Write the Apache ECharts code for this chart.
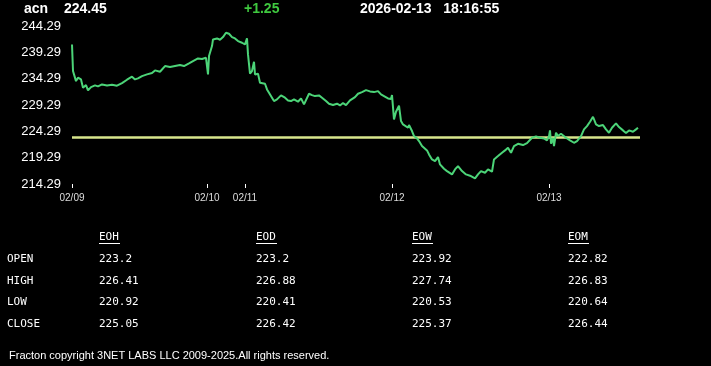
<!DOCTYPE html>
<html>
<head>
<meta charset="utf-8">
<script src="https://cdn.jsdelivr.net/npm/echarts@6/dist/echarts.min.js"></script>
<style>
html,body{margin:0;padding:0;background:#000;}
#chart{width:711px;height:366px;}
</style>
</head>
<body>
<div id="chart"></div>
<script>
// ---- header ----
const symbol = 'acn';
const lastPrice = '224.45';
const change = '+1.25';
const quoteDate = '2026-02-13';
const quoteTime = '18:16:55';
const prevClose = 223.2;

// ---- price series (sample index, price) ----
const sampleIdx = [
  0,1,2,4,6,9,11,14,16,19,23,26,30,35,40,45,50,55,60,63,66,70,75,80,83,88,93,98,103,108,112,117,121,126,130,134,136,137,
  138,140,141,145,148,151,154,157,160,163,166,170,173,175,176,178,180,182,183,186,188,190,193,195,197,200,202,205,209,213,216,219,222,226,229,232,234,237,240,243,247,250,254,257,261,265,268,271,274,278,
  283,286,290,294,298,302,306,309,312,316,319,320,322,324,327,329,331,333,336,337,340,342,345,347,350,352,355,357,360,363,366,368,372,375,380,383,386,390,394,398,403,406,409,413,416,420,422,
  426,430,433,436,439,442,446,451,455,460,464,468,472,475,477,478,479,481,482,484,486,489,491,494,498,502,505,509,512,515,518,521,524,527,531,534,537,540,544,547,551,554,557,561,564,566
];
const prices = [
  240.79,235.73,235.10,233.83,234.47,234.15,232.57,233.07,232.06,232.69,233.01,232.82,233.20,233.01,233.14,232.95,233.45,234.09,234.66,234.15,234.34,234.78,235.10,235.35,235.86,235.60,236.68,236.49,236.68,236.87,236.68,237.19,237.63,238.14,238.01,238.26,235.10,238.58,
  238.26,240.48,241.74,241.93,241.68,242.19,243.01,242.82,242.19,241.93,241.43,241.11,240.79,241.93,238.90,235.23,235.73,237.50,235.10,235.23,233.52,233.20,233.33,232.25,231.62,230.67,230.04,230.35,231.11,230.67,230.16,230.04,230.35,229.91,230.54,229.40,229.53,231.43,231.17,230.98,231.11,230.67,230.04,229.53,229.28,229.53,229.21,229.66,229.28,230.16,
  230.79,231.43,231.74,232.12,231.87,231.74,231.93,231.30,230.98,230.54,230.42,231.17,226.55,228.01,229.15,226.24,225.60,225.73,224.97,225.48,224.34,223.39,222.95,222.44,221.49,221.68,220.67,219.91,218.96,218.64,219.40,218.01,217.19,216.74,216.11,217.06,217.69,216.74,216.11,215.86,215.35,216.11,216.74,216.43,217.06,216.62,218.96,
  219.59,220.23,220.67,221.17,220.23,221.49,221.93,221.68,222.06,223.07,223.33,223.07,222.95,222.57,223.39,224.47,221.93,223.07,221.49,224.02,223.39,223.83,223.96,223.07,222.57,222.12,222.44,223.39,224.66,225.29,226.11,227.06,225.60,225.29,225.48,224.66,224.02,224.97,225.79,225.10,224.47,223.96,224.47,224.21,224.66,224.97
];
const xMax = 568;

// ---- axes ----
const dayTickIdx = [0, 135, 173, 320, 477];
const dayLabels = ['02/09', '02/10', '02/11', '02/12', '02/13'];
const yTicks = [214.29, 219.29, 224.29, 229.29, 234.29, 239.29, 244.29];

// ---- table ----
const colNames = ['EOH', 'EOD', 'EOW', 'EOM'];
const rowNames = ['OPEN', 'HIGH', 'LOW', 'CLOSE'];
const openVals  = ['223.2', '223.2', '223.92', '222.82'];
const highVals  = ['226.41', '226.88', '227.74', '226.83'];
const lowVals   = ['220.92', '220.41', '220.53', '220.64'];
const closeVals = ['225.05', '226.42', '225.37', '226.44'];
const footer = 'Fracton copyright 3NET LABS LLC 2009-2025.All rights reserved.';

// ---- build ----
const chart = echarts.init(document.getElementById('chart'), null, {renderer: 'canvas'});
const HFONT = 'bold 14px "Liberation Sans", Arial, sans-serif';
const MONO = '"DejaVu Sans Mono", "Liberation Mono", monospace';

const graphics = [];
function hText(x, txt, color) {
  graphics.push({type: 'text', left: x, top: 2, style: {text: txt, fill: color, font: HFONT}});
}
hText(24, symbol, '#fff');
hText(64, lastPrice, '#fff');
hText(244, change, '#3fc83f');
hText(360, quoteDate + '   ' + quoteTime, '#fff');

const colX = [99, 256, 412, 568];
const rowY = [254, 275.5, 297, 318.5];
const tableRows = [openVals, highVals, lowVals, closeVals];
colNames.forEach((c, i) => {
  graphics.push({type: 'text', x: colX[i], y: 232, style: {text: c, fill: '#fff', font: '11px ' + MONO}});
  graphics.push({type: 'line', shape: {x1: colX[i], y1: 243.5, x2: colX[i] + 21, y2: 243.5}, style: {stroke: '#fff', lineWidth: 1}});
});
rowNames.forEach((r, j) => {
  graphics.push({type: 'text', x: 7, y: rowY[j], style: {text: r, fill: '#fff', font: '11px ' + MONO}});
  tableRows[j].forEach((v, i) => {
    graphics.push({type: 'text', x: colX[i], y: rowY[j], style: {text: v, fill: '#fff', font: '11px ' + MONO}});
  });
});
graphics.push({type: 'text', x: 9, y: 350, style: {text: footer, fill: '#fff', font: '11px "Liberation Sans", Arial, sans-serif'}});

chart.setOption({
  backgroundColor: '#000',
  animation: false,
  grid: {left: 72, right: 71, top: 26, bottom: 182, containLabel: false},
  xAxis: {
    type: 'value', min: 0, max: xMax,
    axisLine: {show: false},
    splitLine: {show: false},
    axisTick: {show: true, customValues: dayTickIdx, length: 4, lineStyle: {color: '#fff', width: 1}},
    axisLabel: {
      customValues: dayTickIdx, color: '#ddd', fontSize: 10, margin: 9,
      fontFamily: '"Liberation Sans", Arial, sans-serif',
      formatter: v => dayLabels[dayTickIdx.indexOf(v)] || ''
    }
  },
  yAxis: {
    type: 'value', min: yTicks[0], max: yTicks[yTicks.length - 1],
    axisLine: {show: false},
    axisTick: {show: false},
    splitLine: {show: false},
    axisLabel: {
      customValues: yTicks, color: '#fff', fontSize: 13, margin: 11,
      fontFamily: '"Liberation Sans", Arial, sans-serif',
      formatter: v => Number(v).toFixed(2)
    }
  },
  series: [{
    type: 'line',
    data: sampleIdx.map((x, i) => [x, prices[i]]),
    showSymbol: false,
    lineStyle: {color: '#4cd478', width: 2},
    z: 3,
    markLine: {
      silent: true, symbol: 'none', label: {show: false},
      lineStyle: {color: '#d8e68c', width: 2.5, type: 'solid'},
      data: [{yAxis: prevClose}],
      z: 2
    }
  }],
  graphic: graphics
});
</script>
</body>
</html>
